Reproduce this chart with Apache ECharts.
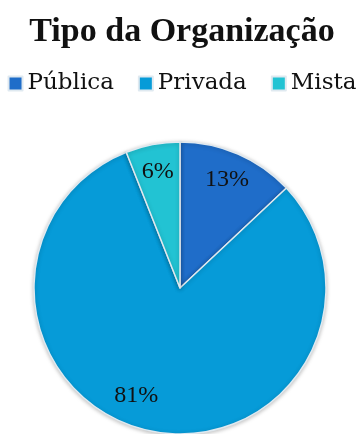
<!DOCTYPE html>
<html>
<head>
<meta charset="utf-8">
<script src="https://cdn.jsdelivr.net/npm/echarts@6/dist/echarts.min.js"></script>
<style>
  html, body { margin: 0; padding: 0; background: #ffffff; }
  #chart { width: 364px; height: 434px; }
</style>
</head>
<body>
<div id="chart"></div>
<script>
// Organization type shares (percent)
const categories = ['Pública', 'Privada', 'Mista'];
const shares = [13, 81, 6];
const colors = ['#1f6dc9', '#069bd8', '#22c3d3'];

const serif = 'Liberation Serif';
const legendFont = 'DejaVu Serif';

const chart = echarts.init(document.getElementById('chart'), null, { renderer: 'canvas' });

const pieData = categories.map((name, i) => ({
  name,
  value: shares[i],
  itemStyle: { color: colors[i] }
}));

chart.setOption({
  animation: false,
  title: {
    text: 'Tipo da Organização',
    left: 'center',
    top: 10,
    textStyle: { fontFamily: serif, fontWeight: 'bold', fontSize: 34, color: '#111111' }
  },
  legend: {
    data: categories,
    top: 67,
    left: 'center',
    icon: 'rect',
    itemWidth: 14,
    itemHeight: 14,
    itemGap: 24,
    textStyle: { fontFamily: legendFont, fontSize: 23, color: '#111111' }
  },
  series: [
    {
      // visible slices
      type: 'pie',
      center: [180, 288],
      radius: 146,
      startAngle: 90,
      clockwise: true,
      data: pieData,
      label: { show: false },
      labelLine: { show: false },
      itemStyle: {
        borderColor: '#dfe9f0',
        borderWidth: 1.5,
        shadowColor: 'rgba(0,0,0,0.25)',
        shadowBlur: 4,
        shadowOffsetY: 1
      },
      emphasis: { disabled: true }
    },
    {
      // transparent ring that carries the percent labels toward the rim
      type: 'pie',
      center: [180, 288],
      radius: [85, 146],
      startAngle: 90,
      clockwise: true,
      silent: true,
      data: pieData.map((d, i) => ({
        name: d.name,
        value: d.value,
        label: i === 1 ? { offset: [-18, -8] } : {}
      })),
      itemStyle: { color: 'rgba(0,0,0,0)' },
      label: {
        show: true,
        position: 'inside',
        formatter: p => p.value + '%',
        fontFamily: serif,
        fontSize: 24,
        color: '#111111'
      },
      labelLine: { show: false },
      emphasis: { disabled: true }
    }
  ]
});
</script>
</body>
</html>
